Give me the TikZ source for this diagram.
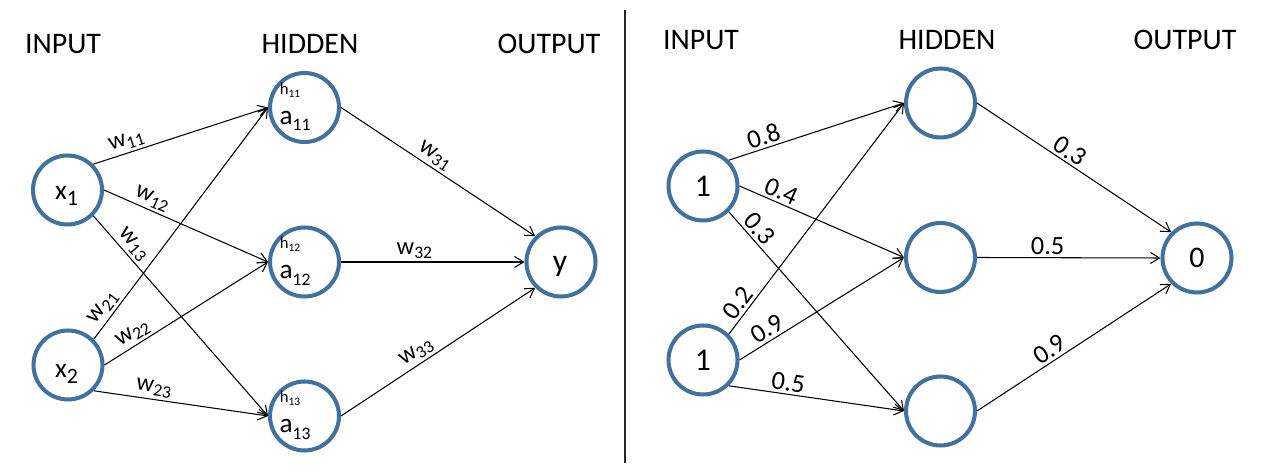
\documentclass[tikz,border=0pt]{standalone}
\usepackage{fontspec}
\setmainfont{Carlito}
\usetikzlibrary{arrows.meta}
\definecolor{nodeblue}{RGB}{65,113,156}

% font size helper and subscripted labels
\newcommand\fs[1]{\fontsize{#1}{#1}\selectfont}
\newcommand\wl[1]{{\fs{14}w}\raisebox{-2.3pt}{\fs{10}#1}}
\newcommand\xl[1]{{\fs{15.5}x}\raisebox{-3.8pt}{\fs{12.5}#1}}
\newcommand\al[1]{{\fs{15.5}a}\raisebox{-3.8pt}{\fs{10}#1}}
\newcommand\hl[1]{{\fs{9.5}h}\raisebox{-1.7pt}{\fs{6.5}#1}}

\begin{document}
\begin{tikzpicture}[x=0.02cm,y=-0.02cm,
  neuron/.style={circle,draw=nodeblue,line width=2.3pt,minimum size=1.38cm,inner sep=0pt},
  txt/.style={inner sep=0pt},
  head/.style={inner sep=0pt,font=\fs{17}},
  conn/.style={line width=0.6pt,-{Straight Barb[length=0.18cm,width=0.22cm]}},
  wlab/.style={sloped,above,inner sep=1.5pt},
  vlab/.style={sloped,above,inner sep=1.5pt,font=\fs{15}}]
\useasboundingbox (0,0) rectangle (1275,475);

% ---------- left network ----------
\node[head] (inL)  at (63,44)  {INPUT};
\node[head] (hidL) at (310,44) {HIDDEN};
\node[head] (outL) at (549,44) {OUTPUT};

\node[neuron] (x1)  at (67.5,190) {};
\node[neuron] (x2)  at (68,365)   {};
\node[neuron] (h11) at (304.5,107.5) {};
\node[neuron] (h12) at (304.5,262)   {};
\node[neuron] (h13) at (304.5,416)   {};
\node[neuron] (y)   at (561,262)     {};

\node[txt] (x1t) at (66.5,196) {\xl{1}};
\node[txt] (x2t) at (66.5,374) {\xl{2}};
\node[txt] (a11) at (295,121)   {\al{11}};
\node[txt] (a12) at (295,275.5) {\al{12}};
\node[txt] (a13) at (295,429.5) {\al{13}};
\node[txt] (h11t) at (290,90)    {\hl{11}};
\node[txt] (h12t) at (290,244.5) {\hl{12}};
\node[txt] (h13t) at (290,398.5) {\hl{13}};
\node[txt,font=\fs{18}] (yt) at (560,267) {y};

\draw[conn] (x1.45)  -- node[wlab,pos=0.21]  {\wl{11}} (h11.west);
\draw[conn] (x1.east) -- node[wlab,pos=0.265] {\wl{12}} (h12.west);
\draw[conn] (x1.315) -- node[wlab,pos=0.18]  {\wl{13}} (h13.west);
\draw[conn] (x2.45)  -- node[wlab,pos=0.106] {\wl{21}} (h11.west);
\draw[conn] (x2.east) -- node[wlab,pos=0.21]  {\wl{22}} (h12.west);
\draw[conn] (x2.315) -- node[wlab,pos=0.335] {\wl{23}} (h13.west);
\draw[conn] (h11.east) -- node[wlab,pos=0.45] {\wl{31}} (y.135);
\draw[conn] (h12.east) -- node[wlab,pos=0.40] {\wl{32}} (y.west);
\draw[conn] (h13.east) -- node[wlab,pos=0.42] {\wl{33}} (y.225);

% ---------- divider ----------
\coordinate (divTop) at (625,10);
\coordinate (divBot) at (625,463);
\draw[line width=1.1pt,black!85] (divTop) -- (divBot);

% ---------- right network ----------
\node[head] (inR)  at (701,40)  {INPUT};
\node[head] (hidR) at (947,40)  {HIDDEN};
\node[head] (outR) at (1185,40) {OUTPUT};

\node[neuron,font=\fs{18}] (i1) at (703,186) {1};
\node[neuron,font=\fs{18}] (i2) at (703,360) {1};
\node[neuron] (g1) at (940.5,103)   {};
\node[neuron] (g2) at (940.5,257.5) {};
\node[neuron] (g3) at (940.5,411)   {};
\node[neuron,font=\fs{17}] (o) at (1197,258) {0};

\draw[conn] (i1.45)   -- node[vlab,pos=0.22]  {0.8} (g1.west);
\draw[conn] (i1.east) -- node[vlab,pos=0.225] {0.4} (g2.west);
\draw[conn] (i1.315)  -- node[vlab,pos=0.124] {0.3} (g3.west);
\draw[conn] (i2.45)   -- node[vlab,pos=0.105] {0.2} (g1.west);
\draw[conn] (i2.east) -- node[vlab,pos=0.205] {0.9} (g2.west);
\draw[conn] (i2.315)  -- node[vlab,pos=0.33]  {0.5} (g3.west);
\draw[conn] (g1.east) -- node[vlab,pos=0.447] {0.3} (o.135);
\draw[conn] (g2.east) -- node[vlab,pos=0.385] {0.5} (o.west);
\draw[conn] (g3.east) -- node[vlab,pos=0.406] {0.9} (o.225);
\end{tikzpicture}
\end{document}
